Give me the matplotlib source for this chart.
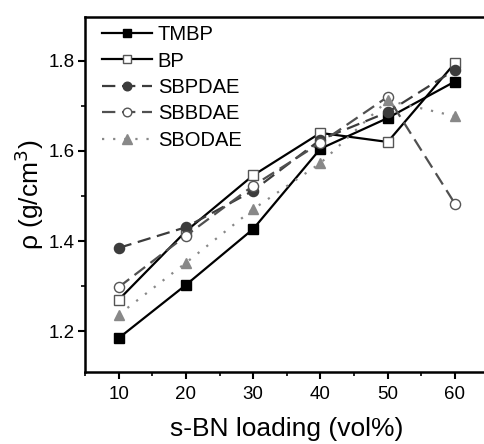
import matplotlib
matplotlib.use("Agg")
import matplotlib.pyplot as plt
from matplotlib.ticker import MultipleLocator

plt.rcParams['font.family'] = ['Liberation Sans', 'DejaVu Sans']

loading = [10, 20, 30, 40, 50, 60]
tmbp = [1.185, 1.303, 1.427, 1.605, 1.673, 1.754]
bp = [1.270, 1.422, 1.546, 1.640, 1.620, 1.795]
sbpdae = [1.385, 1.431, 1.512, 1.625, 1.686, 1.780]
sbbdae = [1.298, 1.412, 1.523, 1.618, 1.720, 1.483]
sbodae = [1.237, 1.352, 1.471, 1.573, 1.712, 1.677]

fig = plt.figure(figsize=(4.85, 4.44), dpi=100)
ax = fig.add_axes([85/485, 72/444, 403.6/485, 355/444])

ax.plot(loading, tmbp, color='black', lw=1.6, marker='s', ms=6.8, mfc='black', mec='black', label='TMBP')
ax.plot(loading, bp, color='black', lw=1.6, marker='s', ms=6.8, mfc='white', mec='#555555', mew=1.0, label='BP')
ax.plot(loading, sbpdae, color='#3c3c3c', lw=1.6, ls=(0, (6, 3)), marker='o', ms=7.3, mfc='#3c3c3c', mec='#3c3c3c', label='SBPDAE')
ax.plot(loading, sbbdae, color='#505050', lw=1.6, ls=(0, (6, 3)), marker='o', ms=7.3, mfc='white', mec='#555555', mew=1.0, label='SBBDAE')
ax.plot(loading, sbodae, color='#888888', lw=1.6, ls=(0, (1, 4)), marker='^', ms=7.8, mfc='#888888', mec='#888888', label='SBODAE')

ax.set_xlim(5, 65)
ax.set_ylim(1.11, 1.897)
ax.set_xticks(loading)
ax.xaxis.set_minor_locator(MultipleLocator(5))
ax.set_yticks([1.2, 1.4, 1.6, 1.8])
ax.yaxis.set_minor_locator(MultipleLocator(0.1))
ax.tick_params(which='major', direction='out', length=5, width=1.5, labelsize=13.5)
ax.tick_params(axis='x', which='major', pad=5)
ax.tick_params(axis='y', which='major', pad=2.5)
ax.tick_params(which='minor', direction='out', length=3, width=1.2)
for s in ax.spines.values():
    s.set_linewidth(1.8)

ax.set_xlabel('s-BN loading (vol%)', fontsize=19, labelpad=10)
ax.set_ylabel('ρ (g/cm$^3$)', fontsize=19, labelpad=2)

ax.legend(loc='upper left', frameon=False, fontsize=14.5, handlelength=2.47,
          handletextpad=0.3, labelspacing=0.37, borderaxespad=0.0,
          borderpad=0.4, markerscale=0.85,
          bbox_to_anchor=(0.022, 1.0))

fig.savefig('out.png', dpi=100)
